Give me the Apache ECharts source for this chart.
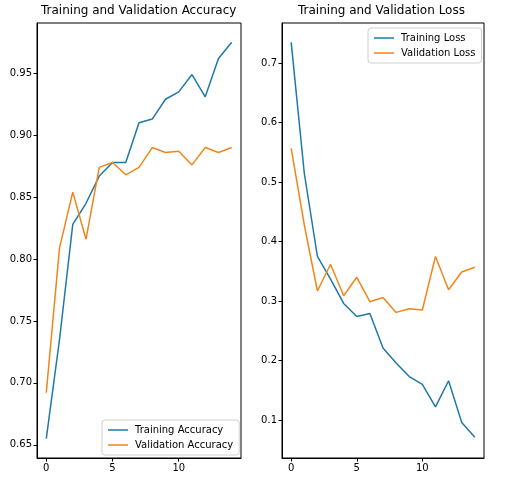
<!DOCTYPE html>
<html lang="en">
<head>
    <meta charset="UTF-8">
    <title>Training and Validation</title>
    <style>
        html, body { margin: 0; padding: 0; background: #fff; }
    </style>
</head>
<body>
<div id="main" style="width: 507px;height:488px;"></div>
<script src="https://cdn.jsdelivr.net/npm/echarts@6/dist/echarts.min.js"></script>

<script>
    // epochs
    var epochs = [0, 1, 2, 3, 4, 5, 6, 7, 8, 9, 10, 11, 12, 13, 14];

    var trainAcc = [0.655, 0.735, 0.828, 0.845, 0.867, 0.878, 0.878, 0.910, 0.913, 0.929, 0.935, 0.949, 0.931, 0.962, 0.975];
    var valAcc = [0.692, 0.809, 0.854, 0.816, 0.874, 0.878, 0.868, 0.874, 0.890, 0.886, 0.887, 0.876, 0.890, 0.886, 0.890];

    var trainLoss = [0.735, 0.515, 0.375, 0.337, 0.296, 0.274, 0.279, 0.221, 0.196, 0.173, 0.160, 0.122, 0.166, 0.096, 0.071];
    var valLoss = [0.557, 0.428, 0.317, 0.362, 0.309, 0.340, 0.299, 0.306, 0.281, 0.287, 0.285, 0.375, 0.319, 0.349, 0.357];

    var xTicks = [0, 5, 10];
    var accTicks = [0.65, 0.70, 0.75, 0.80, 0.85, 0.90, 0.95];
    var lossTicks = [0.1, 0.2, 0.3, 0.4, 0.5, 0.6, 0.7];

    var blue = '#1f78aa';
    var orange = '#f0861a';
    var font = 'DejaVu Sans';

    function pairs(ys) {
        var out = [];
        for (var i = 0; i < epochs.length; i++) {
            out.push([epochs[i], ys[i]]);
        }
        return out;
    }

    function xAxis(idx) {
        return {
            type: 'value', gridIndex: idx, min: -0.7, max: 14.7,
            splitLine: {show: false},
            axisLine: {show: true, onZero: false, lineStyle: {color: '#000', width: 1}},
            axisTick: {show: true, customValues: xTicks, length: 3.5, lineStyle: {color: '#000'}},
            axisLabel: {customValues: xTicks, color: '#000', fontSize: 10, fontFamily: font, margin: 5}
        };
    }

    function yAxis(idx, min, max, ticks, digits) {
        return {
            type: 'value', gridIndex: idx, min: min, max: max,
            splitLine: {show: false},
            axisLine: {show: true, onZero: false, lineStyle: {color: '#000', width: 1}},
            axisTick: {show: true, customValues: ticks, length: 3.5, lineStyle: {color: '#000'}},
            axisLabel: {
                customValues: ticks, color: '#000', fontSize: 10, fontFamily: font, margin: 5,
                formatter: function (v) { return v.toFixed(digits); }
            }
        };
    }

    function legendBox(names, left, top) {
        return {
            data: names, orient: 'vertical', left: left, top: top,
            icon: 'rect', itemWidth: 20, itemHeight: 1.5, itemGap: 5,
            padding: [5, 6, 5, 6],
            borderColor: '#d0d0d0', borderWidth: 1, borderRadius: 3,
            backgroundColor: 'rgba(255,255,255,0.8)',
            textStyle: {color: '#000', fontSize: 10, fontFamily: font, padding: [0, 0, 0, 2]}
        };
    }

    var myChart = echarts.init(document.getElementById('main'));

    var option = {
        animation: false,
        backgroundColor: '#fff',
        title: [
            {text: 'Training and Validation Accuracy', left: 41, top: 5, padding: 0,
                textStyle: {fontSize: 12, fontWeight: 'normal', color: '#000', fontFamily: font}},
            {text: 'Training and Validation Loss', left: 298, top: 5, padding: 0,
                textStyle: {fontSize: 12, fontWeight: 'normal', color: '#000', fontFamily: font}}
        ],
        legend: [
            legendBox(['Training Accuracy', 'Validation Accuracy'], 102, 420),
            legendBox(['Training Loss', 'Validation Loss'], 368, 28)
        ],
        grid: [
            {left: 37, right: 266, top: 23, bottom: 30, show: true, borderColor: '#000', borderWidth: 1, containLabel: false},
            {left: 282, right: 23, top: 23, bottom: 30, show: true, borderColor: '#000', borderWidth: 1, containLabel: false}
        ],
        xAxis: [xAxis(0), xAxis(1)],
        yAxis: [
            yAxis(0, 0.6393, 0.9906, accTicks, 2),
            yAxis(1, 0.0361, 0.7677, lossTicks, 1)
        ],
        series: [
            {name: 'Training Accuracy', type: 'line', xAxisIndex: 0, yAxisIndex: 0, showSymbol: false,
                lineStyle: {width: 1.5, color: blue}, itemStyle: {color: blue}, data: pairs(trainAcc)},
            {name: 'Validation Accuracy', type: 'line', xAxisIndex: 0, yAxisIndex: 0, showSymbol: false,
                lineStyle: {width: 1.5, color: orange}, itemStyle: {color: orange}, data: pairs(valAcc)},
            {name: 'Training Loss', type: 'line', xAxisIndex: 1, yAxisIndex: 1, showSymbol: false,
                lineStyle: {width: 1.5, color: blue}, itemStyle: {color: blue}, data: pairs(trainLoss)},
            {name: 'Validation Loss', type: 'line', xAxisIndex: 1, yAxisIndex: 1, showSymbol: false,
                lineStyle: {width: 1.5, color: orange}, itemStyle: {color: orange}, data: pairs(valLoss)}
        ]
    };
    myChart.setOption(option);
</script>
</body>
</html>
